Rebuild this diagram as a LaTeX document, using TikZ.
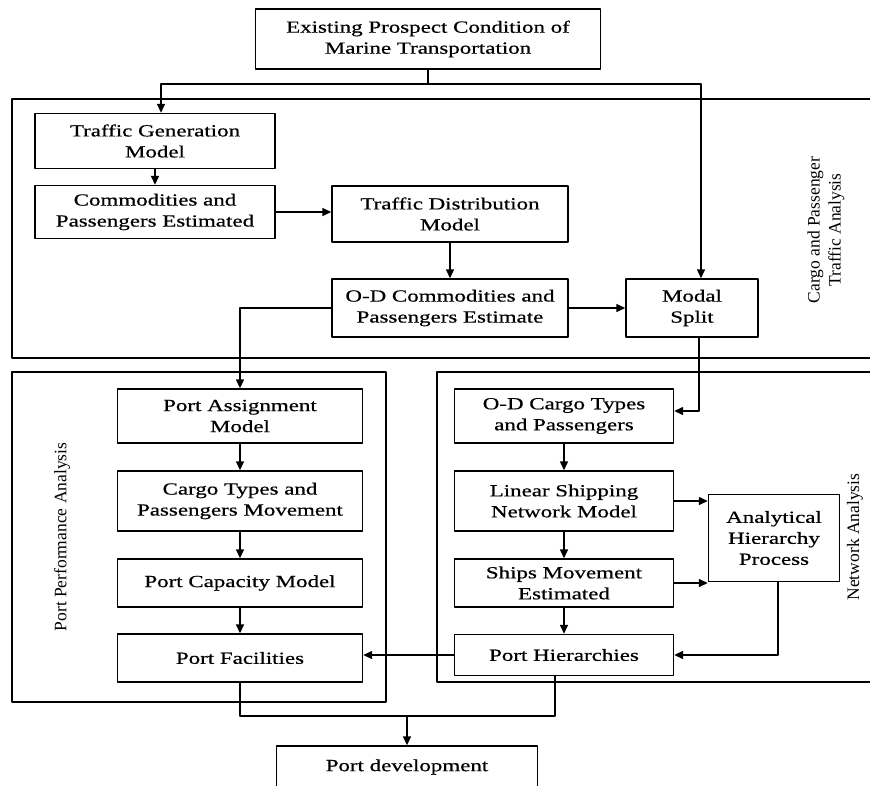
\documentclass[tikz,border=0pt]{standalone}
\usepackage{fontspec}
\setmainfont{Liberation Serif}[FakeStretch=1.35,FakeBold=0.6]
\newfontfamily\lblfont{Liberation Serif}
\usetikzlibrary{arrows.meta}
\begin{document}
\begin{tikzpicture}[x=1pt, y=-1pt, font=\fontsize{17}{21}\selectfont, line join=round, line width=1.4pt, >={Triangle[length=9pt,width=8pt]},
	box/.style={draw, align=center, inner sep=0pt},
	lbl/.style={rotate=90, align=center, font=\lblfont\fontsize{17.5}{21}\selectfont}]
	\useasboundingbox (0,0) rectangle (870,785);
	\path
	(428,84)coordinate (split)
	(407,716)coordinate (merge)
	;
	% frames of the three parts
	\draw (870,99) -| (12,358) -- (870,358);
	\draw (12,372) rectangle (386,702);
	\draw (870,372) -| (437,682) -- (870,682);
	\node[lbl] (cpta) at (826,230) {Cargo and Passenger\\Traffic Analysis};
	\node[lbl] (ppa) at (62,537) {Port Performance Analysis};
	\node[lbl] (na) at (855,537) {Network Analysis};
	
	\node[box, minimum width=345pt, minimum height=60pt] (top) at (428,39) {Existing Prospect Condition of\\Marine Transportation};
	\node[box, minimum width=240pt, minimum height=55pt] (tg) at (155,141) {Traffic Generation\\Model};
	\node[box, minimum width=240pt, minimum height=53pt] (cpe) at (155,212) {Commodities and\\Passengers Estimated};
	\node[box, minimum width=236pt, minimum height=56pt] (tdm) at (450,214) {Traffic Distribution\\Model};
	\node[box, minimum width=236pt, minimum height=58pt] (odc) at (450,308) {O-D Commodities and\\Passengers Estimate};
	\node[box, minimum width=132pt, minimum height=58pt] (ms) at (692,308) {Modal\\Split};
	
	\node[box, minimum width=245pt, minimum height=54pt] (pam) at (240,416) {Port Assignment\\Model};
	\node[box, minimum width=245pt, minimum height=60pt] (ctpm) at (240,501) {Cargo Types and\\Passengers Movement};
	\node[box, minimum width=245pt, minimum height=48pt] (pcm) at (240,583) {Port Capacity Model};
	\node[box, minimum width=245pt, minimum height=48pt] (pf) at (240,658) {Port Facilities};
	
	\node[box, minimum width=219pt, minimum height=54pt] (odct) at (564,416) {O-D Cargo Types\\and Passengers};
	\node[box, minimum width=219pt, minimum height=60pt] (lsnm) at (564,501) {Linear Shipping\\Network Model};
	\node[box, minimum width=219pt, minimum height=48pt] (sme) at (564,583) {Ships Movement\\Estimated};
	\node[box, minimum width=219pt, minimum height=41pt] (ph) at (564,655) {Port Hierarchies};
	\node[box, minimum width=131pt, minimum height=87pt] (ahp) at (774,538) {Analytical\\Hierarchy\\Process};
	
	\node[box, minimum width=261pt, minimum height=42pt] (pd) at (407,767) {Port development};
	
	\draw (top.south) -- (split);
	\draw[->] (split) -| ([xshift=6pt]tg.north);
	\draw[->] (split) -| ([xshift=9pt]ms.north);
	\draw[->] (tg) -- (cpe);
	\draw[->] (cpe.east) -- (cpe.east -| tdm.west);
	\draw[->] (tdm) -- (odc);
	\draw[->] (odc) -- (ms);
	\draw[->] (odc.west) -| (pam.north);
	\draw[->] ([xshift=7pt]ms.south) |- ([yshift=5pt]odct.east);
	\foreach \a/\b in {pam/ctpm,ctpm/pcm,pcm/pf,odct/lsnm,lsnm/sme,sme/ph}\draw[->] (\a) -- (\b);
	\draw[->] (lsnm.east) -- (lsnm.east -| ahp.west);
	\draw[->] (sme.east) -- (sme.east -| ahp.west);
	\draw[->] ([xshift=4pt]ahp.south) |- (ph.east);
	\draw[->] (ph.west) -- (ph.west -| pf.east);
	\draw (pf) |- (merge) -| ([xshift=-9pt]ph.south);
	\draw[->] (merge) -- (pd);
\end{tikzpicture}
\end{document}
